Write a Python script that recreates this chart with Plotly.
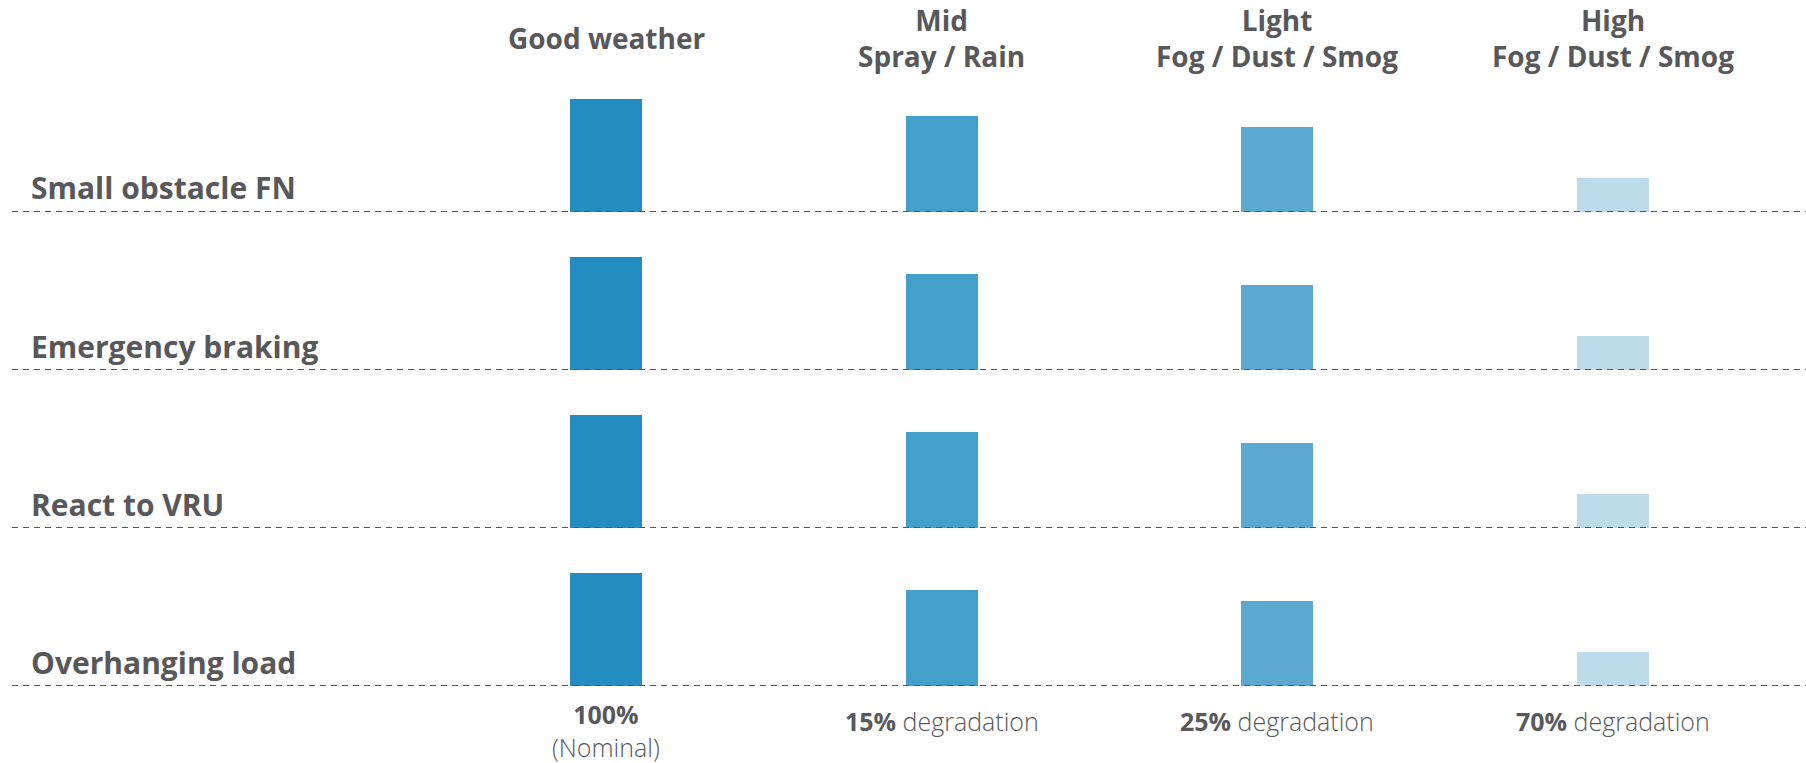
import plotly.graph_objects as go

conditions = ["Good weather", "Mid<br>Spray / Rain", "Light<br>Fog / Dust / Smog", "High<br>Fog / Dust / Smog"]
scenarios = ["Small obstacle FN", "Emergency braking", "React to VRU", "Overhanging load"]
performance = [100, 85, 75, 30]
bottom_labels = ["<b>100%</b><br>(Nominal)", "<b>15%</b> degradation", "<b>25%</b> degradation", "<b>70%</b> degradation"]
bar_colors = ["#238dc1", "#43a0cb", "#5ba9d0", "#bcdcec"]

W, H = 1806, 763
TEXT = "#58585a"
FONT = "Open Sans"

# row baselines in px from top
baselines = [212, 370, 528, 686]
row_h = 158
px_per_unit = 113 / 100.0
R = row_h / px_per_unit

x_pos = list(range(len(conditions)))
x0_px, x3_px = 606, 1613
ppu = (x3_px - x0_px) / 3
xr = [-x0_px / ppu, (W - x0_px) / ppu]

fig = go.Figure()
layout_axes = {}
shapes = []
annotations = []
for i, sc in enumerate(scenarios):
    yname = "y" if i == 0 else f"y{i+1}"
    axkey = "yaxis" if i == 0 else f"yaxis{i+1}"
    b = baselines[i]
    dom = [(H - b) / H, (H - b + row_h) / H]
    layout_axes[axkey] = dict(domain=dom, range=[0, R], visible=False, fixedrange=True)
    fig.add_trace(go.Bar(
        x=x_pos, y=performance, xaxis="x", yaxis=yname,
        marker=dict(color=bar_colors, line=dict(width=0)),
        width=72 / ppu, showlegend=False, hoverinfo="skip",
    ))
    shapes.append(dict(type="line", xref="paper", yref=yname, x0=12 / W, x1=1, y0=0, y1=0,
                       line=dict(color="#555555", width=2, dash="6px,5px"), layer="above"))
    annotations.append(dict(text=sc, xref="paper", yref=yname, x=30 / W, y=0,
                            xanchor="left", yanchor="middle", yshift=24, showarrow=False,
                            borderpad=0,
                            font=dict(family=FONT, size=30, color=TEXT, weight=700)))

for j, c in enumerate(conditions):
    annotations.append(dict(text=c, xref="x", yref="paper", x=x_pos[j], y=(H - 38) / H,
                            xanchor="center", yanchor="middle", showarrow=False, borderpad=0,
                            font=dict(family=FONT, size=28, color=TEXT, weight=700)))
    ypx = 730 if "<br>" in bottom_labels[j] else 721
    annotations.append(dict(text=bottom_labels[j], xref="x", yref="paper", x=x_pos[j], y=(H - ypx) / H,
                            xanchor="center", yanchor="middle", showarrow=False, borderpad=0,
                            font=dict(family=FONT, size=25, color=TEXT, weight=300)))

fig.update_layout(
    width=W, height=H,
    margin=dict(l=0, r=0, t=0, b=0),
    paper_bgcolor="white", plot_bgcolor="white",
    xaxis=dict(range=xr, visible=False, fixedrange=True, anchor="y4"),
    shapes=shapes, annotations=annotations,
    bargap=0,
    **layout_axes,
)

fig.write_html("out.html")
